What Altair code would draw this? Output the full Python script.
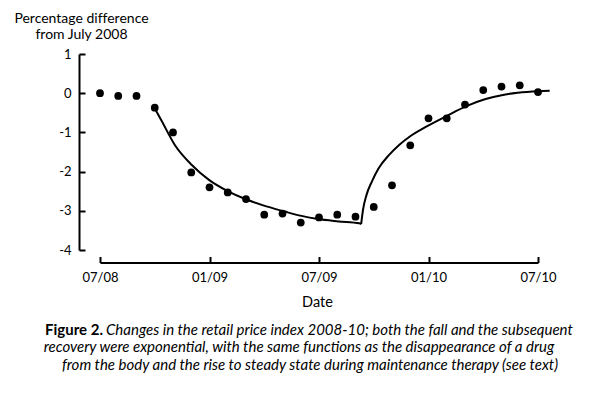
import altair as alt
import pandas as pd

# ---- data ----
months = list(range(25))  # months since July 2008
rpi_change = [0.0, -0.07, -0.07, -0.37, -1.00, -2.02, -2.40, -2.53, -2.70, -3.10,
              -3.07, -3.30, -3.17, -3.10, -3.15, -2.90, -2.35, -1.33, -0.64, -0.64,
              -0.29, 0.08, 0.17, 0.20, 0.03]

fall_months = [2.98, 3.36, 4.10, 5.03, 5.97, 7.05, 7.96, 8.86, 10.13, 11.04, 11.95, 13.08, 14.21, 14.31]
fall_values = [-0.37, -0.69, -1.32, -1.83, -2.21, -2.51, -2.70, -2.85, -3.02, -3.13, -3.21, -3.27, -3.32, -3.34]

rise_months = [14.31, 14.41, 14.60, 14.89, 15.26, 15.83, 16.39, 16.96, 17.85, 19.00, 20.08, 21.13, 22.01, 22.89, 24.03, 24.64]
rise_values = [-3.34, -2.98, -2.60, -2.26, -1.92, -1.58, -1.32, -1.11, -0.86, -0.58, -0.33, -0.15, -0.05, 0.01, 0.05, 0.06]

x_tick_months = [0, 6, 12, 18, 24]
x_tick_labels = ["07/08", "01/09", "07/09", "01/10", "07/10"]
y_ticks = [1, 0, -1, -2, -3, -4]

# zero-width non-joiner keeps the "ff" from turning into a ligature glyph
y_title = ["Percentage dif\u200cference", "from July 2008"]
x_title = "Date"
caption_bold = "Figure 2."
caption_lines = [
    "Changes in the retail price index 2008-10; both the fall and the subsequent",
    "recovery were exponential, with the same functions as the disappearance of a drug",
    "from the body and the rise to steady state during maintenance therapy (see text)",
]

FONT = "Lato"
INK = "black"

df_pts = pd.DataFrame({"month": months, "change": rpi_change})
df_curve = pd.DataFrame({
    "month": fall_months + rise_months,
    "change": fall_values + rise_values,
    "phase": ["fall"] * len(fall_months) + ["recovery"] * len(rise_months),
})

xscale = alt.Scale(domain=[0, 24], nice=False, zero=False)
yscale = alt.Scale(domain=[-4, 1], nice=False, zero=False)

label_expr = " : ".join(
    f"datum.value == {m} ? '{l}'" for m, l in zip(x_tick_months, x_tick_labels)
) + " : ''"

x_domain_axis = alt.Axis(orient="bottom", offset=12.5, domain=True, domainColor=INK,
                         domainWidth=2, ticks=False, labels=False, grid=False, title="")
x_tick_axis = alt.Axis(orient="bottom", offset=6.5, domain=False, ticks=True, tickSize=6,
                       tickWidth=2, tickColor=INK, values=x_tick_months, labelExpr=label_expr,
                       labelFont=FONT, labelFontSize=13, labelColor=INK, labelPadding=9,
                       labelFlush=False, labelOverlap=False,
                       grid=False, title=x_title, titleFont=FONT, titleFontSize=14.5,
                       titleFontWeight="normal", titleColor=INK, titleX=217, titleY=49.5,
                       titleAlign="center", titleBaseline="alphabetic")

y_domain_axis = alt.Axis(orient="left", offset=21, domain=True, domainColor=INK, domainWidth=2,
                         ticks=False, labels=False, grid=False, title=y_title, titleAngle=0,
                         titleAlign="center", titleBaseline="alphabetic", titleX=2, titleY=-32,
                         titleLineHeight=16.5, titleFont=FONT, titleFontSize=14,
                         titleFontWeight="normal", titleColor=INK)
y_tick_axis = alt.Axis(orient="left", offset=15, domain=False, ticks=True, tickSize=6,
                       tickWidth=2, tickColor=INK, values=y_ticks, labelExpr="'' + datum.value",
                       labelFont=FONT, labelFontSize=13, labelColor=INK, labelPadding=8,
                       labelFlush=False, labelOverlap=False,
                       grid=False, title="")

points = alt.Chart(df_pts).mark_circle(size=60, color=INK, opacity=1).encode(
    x=alt.X("month:Q", scale=xscale, axis=x_domain_axis),
    y=alt.Y("change:Q", scale=yscale, axis=y_domain_axis),
)

curves = alt.Chart(df_curve).mark_line(color=INK, strokeWidth=2, interpolate="monotone").encode(
    x=alt.X("month:Q", scale=xscale, axis=x_tick_axis),
    y=alt.Y("change:Q", scale=yscale, axis=y_tick_axis),
    detail="phase:N",
)

def cap_text(txt, x, y, align, weight="normal", style="italic"):
    return alt.Chart(pd.DataFrame({"t": [txt]})).mark_text(
        font=FONT, fontSize=15, fontWeight=weight, fontStyle=style, color=INK,
        align=align, baseline="middle",
    ).encode(text="t:N", x=alt.value(x), y=alt.value(y))

cap0 = cap_text(caption_bold, 3, 276, "right", weight="bold", style="normal")
cap1 = cap_text(caption_lines[0], 6, 276, "left")
cap2 = cap_text(caption_lines[1], 199, 293, "center")
cap3 = cap_text(caption_lines[2], 210, 311, "center")

chart = alt.layer(points, curves, cap0, cap1, cap2, cap3).resolve_axis(
    x="independent", y="independent"
).properties(
    width=438, height=196,
    autosize=alt.AutoSizeParams(type="none"),
    padding={"left": 92, "top": 46, "right": 52, "bottom": 136},
    background="white",
).configure_view(stroke=None)

chart.save("out.html", embed_options={"renderer": "svg", "actions": False})
